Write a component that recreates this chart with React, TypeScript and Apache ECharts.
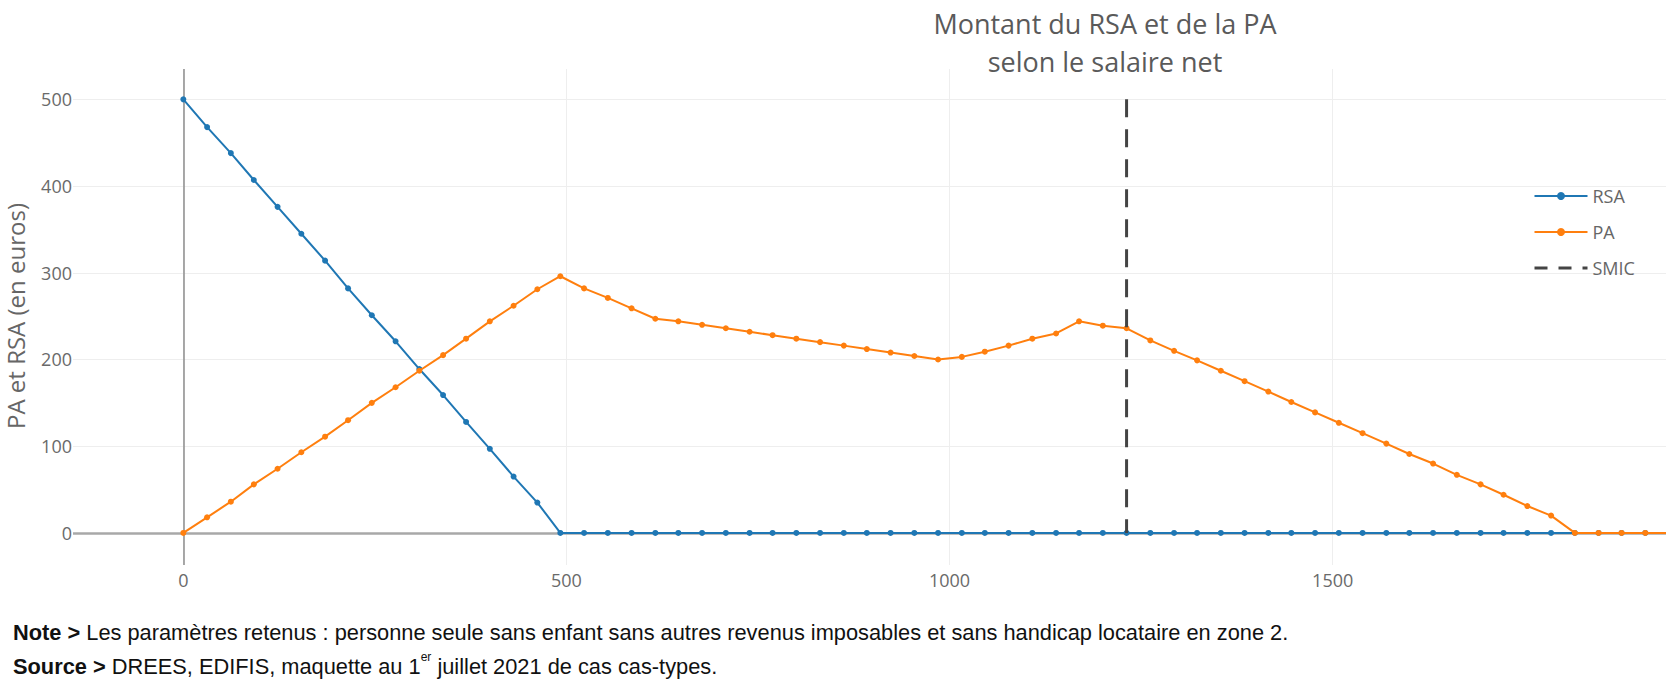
import React, { useEffect, useRef } from "react";
import * as echarts from "echarts";

const titleLines = ["Montant du RSA et de la PA", "selon le salaire net"];
const yAxisTitle = "PA et RSA (en euros)";
const seriesNames = ["RSA", "PA", "SMIC"];

// salaire net (euros), pas de 1/40 du SMIC net
const salaries = [
  0, 31, 62, 92, 123, 154, 185, 215, 246, 277, 308, 339, 369, 400, 431, 462,
  492, 523, 554, 585, 616, 646, 677, 708, 739, 769, 800, 831, 862, 892, 923, 954,
  985, 1016, 1046, 1077, 1108, 1139, 1169, 1200, 1231, 1262, 1293, 1323, 1354, 1385, 1416, 1446,
  1477, 1508, 1539, 1570, 1600, 1631, 1662, 1693, 1723, 1754, 1785, 1816, 1847, 1877, 1908, 1939,
];

const rsaValues = [
  500, 468, 438, 407, 376, 345, 314, 282, 251, 221, 189, 159, 128, 97, 65, 35,
  0, 0, 0, 0, 0, 0, 0, 0, 0, 0, 0, 0, 0, 0, 0, 0,
  0, 0, 0, 0, 0, 0, 0, 0, 0, 0, 0, 0, 0, 0, 0, 0,
  0, 0, 0, 0, 0, 0, 0, 0, 0, 0, 0, 0, 0, 0, 0, 0,
];

const paValues = [
  0, 18, 36, 56, 74, 93, 111, 130, 150, 168, 187, 205, 224, 244, 262, 281,
  296, 282, 271, 259, 247, 244, 240, 236, 232, 228, 224, 220, 216, 212, 208, 204,
  200, 203, 209, 216, 224, 230, 244, 239, 236, 222, 210, 199, 187, 175, 163, 151,
  139, 127, 115, 103, 91, 80, 67, 56, 44, 31, 20, 0, 0, 0, 0, 0,
];

const smicNet = 1231;
const smicSpan = [500, 0];

const xTickValues = [0, 500, 1000, 1500];
const yTickValues = [0, 100, 200, 300, 400, 500];

const noteLabel = "Note >";
const noteText =
  " Les paramètres retenus : personne seule sans enfant sans autres revenus imposables et sans handicap locataire en zone 2.";
const sourceLabel = "Source >";
const sourceBefore = " DREES, EDIFIS, maquette au 1";
const sourceSup = "er";
const sourceAfter = " juillet 2021 de cas cas-types.";

const BLUE = "#1f77b4";
const ORANGE = "#ff7f0e";
const SMIC_COLOR = "#444444";
const FONT = "'Open Sans', sans-serif";
const NOTE_FONT = "'Liberation Sans', Arial, sans-serif";
const NOTE_SIZE = 21.8;

export default function App() {
  const ref = useRef<HTMLDivElement>(null);

  useEffect(() => {
    if (!ref.current) return;
    const chart = echarts.init(ref.current, undefined, { renderer: "svg" });

    const rsaData = salaries.map((s, i) => [s, rsaValues[i]]);
    const paData = salaries.map((s, i) => [s, paValues[i]]);
    const smicData = smicSpan.map((v) => [smicNet, v]);

    chart.setOption({
      animation: false,
      backgroundColor: "#ffffff",
      textStyle: { fontFamily: FONT },
      title: {
        text: titleLines.join("\n"),
        left: 1100,
        top: -1,
        textAlign: "center",
        textStyle: {
          fontFamily: FONT,
          fontSize: 27,
          fontWeight: "normal",
          color: "#5a5a5a",
          lineHeight: 38,
        },
      },
      legend: {
        orient: "vertical",
        left: 1528,
        top: 181,
        itemWidth: 53,
        itemHeight: 10,
        itemGap: 16,
        data: [
          { name: seriesNames[0] },
          { name: seriesNames[1] },
          {
            name: seriesNames[2],
            itemStyle: { opacity: 0 },
            lineStyle: { type: [13, 11], width: 3, color: SMIC_COLOR },
          },
        ],
        textStyle: { fontFamily: FONT, fontSize: 18, color: "#666666", lineHeight: 20 },
      },
      grid: { left: 73, right: 0, top: 69, bottom: 119, containLabel: false },
      xAxis: {
        type: "value",
        min: -144,
        max: 1935,
        axisLine: { show: false },
        axisTick: { show: false, customValues: xTickValues },
        axisLabel: {
          customValues: xTickValues,
          margin: 6,
          fontFamily: FONT,
          fontSize: 18,
          color: "#6a6a6a",
          formatter: (v: number) => (xTickValues.includes(v) ? String(v) : ""),
        },
        splitLine: { show: true, lineStyle: { color: "#eeeeee", width: 1 } },
      },
      yAxis: {
        type: "value",
        min: -37,
        max: 535,
        axisLine: { show: false },
        axisTick: { show: false, customValues: yTickValues },
        axisLabel: {
          customValues: yTickValues,
          margin: 1,
          fontFamily: FONT,
          fontSize: 18,
          color: "#6a6a6a",
          formatter: (v: number) => (yTickValues.includes(v) ? String(v) : ""),
        },
        splitLine: { show: true, lineStyle: { color: "#eeeeee", width: 1 } },
      },
      series: [
        {
          name: "zero",
          type: "line",
          data: [],
          silent: true,
          z: 1,
          markLine: {
            silent: true,
            symbol: "none",
            z: 1,
            label: { show: false },
            data: [
              { yAxis: 0, lineStyle: { color: "#a8a8a8", width: 2.5, type: "solid" } },
              { xAxis: 0, lineStyle: { color: "#8c8c8c", width: 1.5, type: "solid" } },
            ],
          },
        },
        {
          name: seriesNames[0],
          type: "line",
          data: rsaData,
          z: 3,
          color: BLUE,
          symbol: "circle",
          symbolSize: 6,
          lineStyle: { width: 2, color: BLUE },
          itemStyle: { color: BLUE },
        },
        {
          name: seriesNames[1],
          type: "line",
          data: paData,
          z: 4,
          color: ORANGE,
          symbol: "circle",
          symbolSize: 6,
          lineStyle: { width: 2, color: ORANGE },
          itemStyle: { color: ORANGE },
        },
        {
          name: seriesNames[2],
          type: "line",
          data: smicData,
          z: 5,
          color: SMIC_COLOR,
          symbol: "none",
          lineStyle: { width: 3, color: SMIC_COLOR, type: [18, 12] },
          itemStyle: { color: SMIC_COLOR },
        },
      ],
      graphic: [
        {
          type: "text",
          x: 15,
          y: 316,
          rotation: Math.PI / 2,
          style: {
            text: yAxisTitle,
            textAlign: "center",
            textVerticalAlign: "middle",
            fontFamily: FONT,
            fontSize: 24,
            fill: "#666666",
          },
        },
        {
          type: "text",
          x: 13,
          y: 632,
          style: {
            text: "{b|" + noteLabel + "}{n|" + noteText + "}",
            textVerticalAlign: "middle",
            rich: {
              b: { fontFamily: NOTE_FONT, fontSize: NOTE_SIZE, fontWeight: "bold", fill: "#111111" },
              n: { fontFamily: NOTE_FONT, fontSize: NOTE_SIZE, fill: "#111111" },
            },
          },
        },
        {
          type: "text",
          x: 13,
          y: 664,
          style: {
            text:
              "{b|" + sourceLabel + "}{n|" + sourceBefore + "}{s|" + sourceSup + "}{n|" + sourceAfter + "}",
            textVerticalAlign: "middle",
            rich: {
              b: { fontFamily: NOTE_FONT, fontSize: NOTE_SIZE, fontWeight: "bold", fill: "#111111", lineHeight: 26, verticalAlign: "bottom" },
              n: { fontFamily: NOTE_FONT, fontSize: NOTE_SIZE, fill: "#111111", lineHeight: 26, verticalAlign: "bottom" },
              s: { fontFamily: NOTE_FONT, fontSize: 12, fill: "#111111", lineHeight: 26, verticalAlign: "top" },
            },
          },
        },
      ],
    });

    return () => {
      chart.dispose();
    };
  }, []);

  return (
    <div
      ref={ref}
      style={{ position: "absolute", left: 0, top: 0, width: 1666, height: 684, background: "#ffffff" }}
    />
  );
}
